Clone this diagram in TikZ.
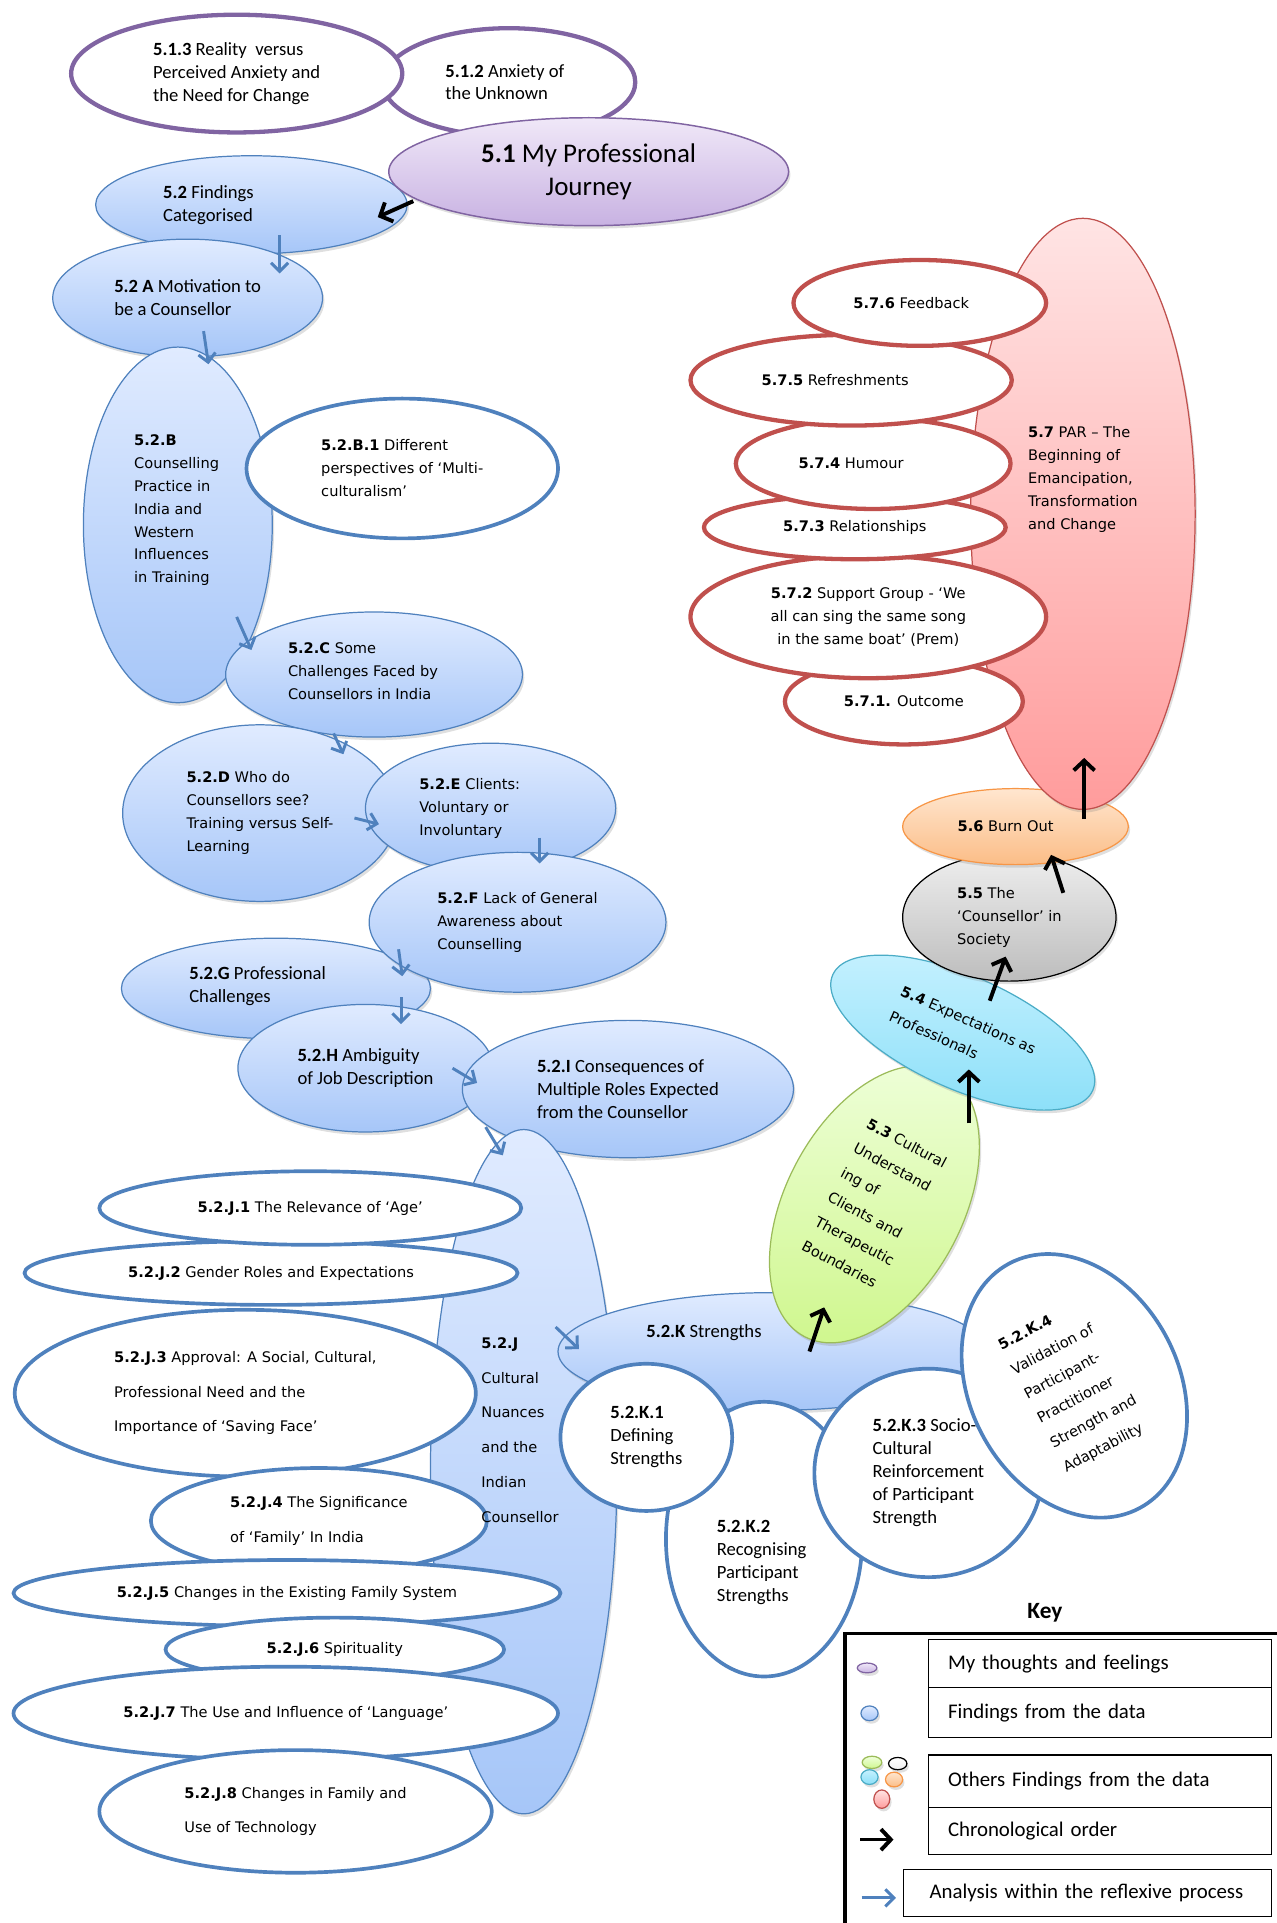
\documentclass[tikz,border=0pt]{standalone}
\usepackage{fontspec}
\usetikzlibrary{shapes.geometric,arrows.meta,shadows}
\newfontfamily\calfont{Carlito}
\newfontfamily\lucfont{DejaVu Sans}

\definecolor{bluebd}{HTML}{4F81BD}
\definecolor{bluetop}{HTML}{E0EBFF}
\definecolor{bluebot}{HTML}{A6C6F8}
\definecolor{purbd}{HTML}{8064A2}
\definecolor{purtop}{HTML}{F0E8F8}
\definecolor{purbot}{HTML}{C8B2E2}
\definecolor{redbd}{HTML}{C0504D}
\definecolor{pinktop}{HTML}{FFE4E4}
\definecolor{pinkbot}{HTML}{FF9C9C}
\definecolor{grnbd}{HTML}{9BBB59}
\definecolor{grntop}{HTML}{EFFFDB}
\definecolor{grnbot}{HTML}{D0F790}
\definecolor{cyanbd}{HTML}{4BACC6}
\definecolor{cyantop}{HTML}{C6F1FF}
\definecolor{cyanbot}{HTML}{8ADFF8}
\definecolor{graytop}{HTML}{EEEEEE}
\definecolor{graybot}{HTML}{BDBDBD}
\definecolor{orgbd}{HTML}{F79646}
\definecolor{orgtop}{HTML}{FFE6CF}
\definecolor{orgbot}{HTML}{FBBD87}

\tikzset{
  every node/.style={inner sep=0pt},
  esize/.style 2 args={minimum width=#1, minimum height=#2},
  caltext/.style={font=\calfont\fontsize{15.2}{18.7}\selectfont},
  luctext/.style={font=\lucfont\fontsize{11.9}{18.7}\selectfont},
  lucloose/.style={font=\lucfont\fontsize{11.9}{28.3}\selectfont},
  lucturn/.style={font=\lucfont\fontsize{11.9}{22.5}\selectfont},
  softshadow/.style={drop shadow={opacity=.25, shadow xshift=1.5pt, shadow yshift=-2.5pt}},
  finding/.style={ellipse, draw=bluebd, line width=1pt, top color=bluetop, bottom color=bluebot, softshadow, align=left},
  detail/.style={ellipse, draw=bluebd, line width=3pt, fill=white, align=left},
  thought/.style={ellipse, draw=purbd, line width=3.5pt, fill=white, align=left},
  reflection/.style={ellipse, draw=purbd, line width=1.2pt, top color=purtop, bottom color=purbot, softshadow, align=center},
  parpart/.style={ellipse, draw=redbd, line width=3.5pt, fill=white, align=center},
  other/.style n args={3}{ellipse, draw=#1, line width=1pt, top color=#2, bottom color=#3, softshadow, align=left},
  flow/.style={draw=bluebd, line width=2.4pt, -{Straight Barb[length=7pt,width=14pt,line width=2.4pt]}},
  chrono/.style={draw=black, line width=3.2pt, -{Straight Barb[length=8pt,width=17pt,line width=3.2pt]}},
  keybox/.style={draw, line width=0.9pt, align=left, font=\calfont\fontsize{17}{20}\selectfont},
  keyicon/.style n args={3}{ellipse, draw=#1, line width=1pt, top color=#2, bottom color=#3, softshadow}
}

\begin{document}
\begin{tikzpicture}[x=1pt,y=-1pt]
\useasboundingbox (0,0) rectangle (1041,1568);

% my thoughts and feelings
\node[thought, caltext, esize={206}{88}] (p512) at (415,67) {\textbf{5.1.2} Anxiety of\\the Unknown\hspace*{20pt}};
\node[thought, caltext, esize={270}{96}] (p513) at (193,60) {\textbf{5.1.3} Reality\ \ versus\\Perceived Anxiety and\hspace*{26pt}\\the Need for Change};

% findings chain
\node[finding, esize={254}{80}] (f52) at (205,167) {};
\node[reflection, esize={326}{88}, font=\calfont\fontsize{22}{27}\selectfont] (p51) at (480,140) {\textbf{5.1} My Professional\\Journey};
\node[finding, caltext, esize={220}{96}] (f52a) at (153,243) {\textbf{5.2 A} Motivation to\\be a Counsellor};
\node[finding, esize={154}{290}] (f52b) at (145,428) {};
\node[detail, luctext, esize={254}{114}] (o52b1) at (328,382) {\textbf{5.2.B.1} Different\\perspectives of ‘Multi-\\culturalism’};
\node[finding, esize={242}{102}] (f52c) at (305,550) {};
\node[finding, luctext, esize={224}{144}] (f52d) at (212,663) {\textbf{5.2.D} Who do\\Counsellors see?\\Training versus Self-\\Learning};
\node[finding, esize={204}{106}] (f52e) at (400,659) {};
\node[finding, esize={252}{82}] (f52g) at (225,806) {};
\node[finding, luctext, esize={242}{114}] (f52f) at (422,752) {\textbf{5.2.F} Lack of General\\Awareness about\\Counselling};
\node[finding, caltext, esize={208}{104}] (f52h) at (298,871) {\textbf{5.2.H} Ambiguity\\of Job Description};
\node[finding, caltext, esize={270}{112}] (f52i) at (512,888) {\textbf{5.2.I} Consequences of\\Multiple Roles Expected\\from the Counsellor};
\node[finding, esize={152}{558}] (f52j) at (427,1200) {};

% cultural nuances
\node[detail, luctext, esize={402}{52}] (o52j2) at (221,1038) {\textbf{5.2.J.2} Gender Roles and Expectations};
\node[detail, luctext, esize={344}{60}] (o52j1) at (253,985) {\textbf{5.2.J.1} The Relevance of ‘Age’};
\node[detail, lucloose, esize={376}{136}] (o52j3) at (200,1136) {\textbf{5.2.J.3} Approval: A Social, Cultural,\\Professional Need and the\\Importance of ‘Saving Face’};
\node[detail, lucloose, esize={274}{86}] (o52j4) at (260,1240) {\textbf{5.2.J.4} The Significance\\of ‘Family’ In India};
\node[detail, luctext, esize={446}{54}] (o52j5) at (234,1299) {\textbf{5.2.J.5} Changes in the Existing Family System};
\node[detail, luctext, esize={276}{52}] (o52j6) at (273,1345) {\textbf{5.2.J.6} Spirituality};
\node[detail, luctext, esize={444}{76}] (o52j7) at (233,1397) {\textbf{5.2.J.7} The Use and Influence of ‘Language’};
\node[detail, lucloose, esize={320}{100}] (o52j8) at (241,1477) {\textbf{5.2.J.8} Changes in Family and\\Use of Technology};

% strengths
\node[finding, esize={350}{96}] (f52k) at (630,1102) {};
\node[detail, esize={160}{224}] (o52k2) at (623,1255) {};
\node[detail, caltext, esize={140}{120}] (o52k1) at (527,1172) {\textbf{5.2.K.1}\\Defining\\Strengths};
\node[detail, caltext, esize={186}{170}] (o52k3) at (757,1201) {\textbf{5.2.K.3} Socio-\\Cultural\\Reinforcement\\of Participant\\Strength};

% other findings
\node[other={grnbd}{grntop}{grnbot}, lucturn, esize={144}{244}, rotate=-28] (g53) at (713,982) {\textbf{5.3} Cultural\\Understand\\ing of\\Clients and\\Therapeutic\\Boundaries};
\node[detail, lucturn, esize={170}{226}, rotate=28] (o52k4) at (876,1130) {\textbf{5.2.K.4}\\Validation of\\Participant-\\Practitioner\\Strength and\\Adaptability};
\node[other={cyanbd}{cyantop}{cyanbot}, lucturn, esize={232}{92}, rotate=-24] (c54) at (785,842) {\textbf{5.4} Expectations as\\Professionals};
\node[other={black}{graytop}{graybot}, luctext, esize={174}{104}] (gr55) at (823,748) {\textbf{5.5} The\\‘Counsellor’ in\\Society};
\node[other={orgbd}{orgtop}{orgbot}, luctext, esize={184}{62}] (or56) at (828,674) {\textbf{5.6} Burn Out\hspace*{16pt}};
\node[other={redbd}{pinktop}{pinkbot}, esize={183}{482}] (pk57) at (883,419) {};
\node[parpart, luctext, esize={194}{70}] (r571) at (737,572) {\textbf{5.7.1.} Outcome};
\node[parpart, luctext, esize={290}{100}] (r572) at (708,503) {\textbf{5.7.2} Support Group - ‘We\\all can sing the same song\\in the same boat’ (Prem)};
\node[parpart, luctext, esize={246}{52}] (r573) at (697,430) {\textbf{5.7.3} Relationships};
\node[parpart, luctext, esize={224}{74}] (r574) at (712,378) {\textbf{5.7.4} Humour\hspace*{36pt}};
\node[parpart, luctext, esize={262}{74}] (r575) at (694,310) {\textbf{5.7.5} Refreshments\hspace*{26pt}};
\node[parpart, luctext, esize={206}{70}] (r576) at (750,247) {\textbf{5.7.6} Feedback\hspace*{14pt}};

% texts set off centre
\node[caltext, align=left] (t52) at ([shift={(-35,0)}]f52.center) {\textbf{5.2} Findings\\Categorised};
\node[luctext, align=left] (t52b) at ([shift={(-1,-12)}]f52b.center) {\textbf{5.2.B}\\Counselling\\Practice in\\India and\\Western\\Influences\\in Training};
\node[luctext, align=left] (t52c) at ([shift={(-9,-3)}]f52c.center) {\textbf{5.2.C} Some\\Challenges Faced by\\Counsellors in India};
\node[luctext, align=left] (t52e) at ([shift={(-17,0)}]f52e.center) {\textbf{5.2.E} Clients:\\Voluntary or\\Involuntary};
\node[caltext, align=left] (t52g) at ([shift={(-15,-2)}]f52g.center) {\textbf{5.2.G} Professional\\Challenges};
\node[lucloose, align=left] (t52j) at ([shift={(-3,-34)}]f52j.center) {\textbf{5.2.J}\\Cultural\\Nuances\\and the\\Indian\\Counsellor};
\node[caltext, align=left] (t52k) at ([shift={(-56,-15)}]f52k.center) {\textbf{5.2.K} Strengths};
\node[caltext, align=left] (t52k2) at ([shift={(-2,19)}]o52k2.center) {\textbf{5.2.K.2}\\Recognising\\Participant\\Strengths};
\node[luctext, align=left] (t57) at ([shift={(0,-28)}]pk57.center) {\textbf{5.7} PAR – The\\Beginning of\\Emancipation,\\Transformation\\and Change};

% analysis within the reflexive process
\draw[flow] ([shift={(23,25)}]f52.center) -- ([shift={(75,-20)}]f52a.center);
\draw[flow] ([shift={(13,27)}]f52a.center) -- ([shift={(25,-131)}]f52b.center);
\draw[flow] ([shift={(48,75)}]f52b.center) -- ([shift={(-100,-20)}]f52c.center);
\draw[flow] ([shift={(-33,48)}]f52c.center) -- ([shift={(68,-48)}]f52d.center);
\draw[flow] ([shift={(77,4)}]f52d.center) -- ([shift={(-91,13)}]f52e.center);
\draw[flow] ([shift={(40,24)}]f52e.center) -- ([shift={(18,-48)}]f52f.center);
\draw[flow] ([shift={(-97,22)}]f52f.center) -- ([shift={(103,-10)}]f52g.center);
\draw[flow] ([shift={(102,7)}]f52g.center) -- ([shift={(29,-36)}]f52h.center);
\draw[flow] ([shift={(71,0)}]f52h.center) -- ([shift={(-123,-5)}]f52i.center);
\draw[flow] ([shift={(-116,31)}]f52i.center) -- ([shift={(-17,-258)}]f52j.center);
\draw[flow] ([shift={(26,-118)}]f52j.center) -- ([shift={(-158,-2)}]f52k.center);

% chronological order
\draw[chrono] ([shift={(-143,24)}]p51.center) -- ([shift={(103,10)}]f52.center);
\draw[chrono] ([shift={(30,0)}]f52k.center) -- ([shift={(-41,84)}]g53.center);
\draw[chrono] ([shift={(77,-66)}]g53.center) -- ([shift={(5,30)}]c54.center);
\draw[chrono] ([shift={(22,-26)}]c54.center) -- ([shift={(-3,32)}]gr55.center);
\draw[chrono] ([shift={(44,-20)}]gr55.center) -- ([shift={(29,23)}]or56.center);
\draw[chrono] ([shift={(56,-6)}]or56.center) -- ([shift={(1,199)}]pk57.center);

% key
\node[font=\calfont\bfseries\fontsize{19}{22}\selectfont] (keyhead) at (852,1315) {Key};
\draw[line width=3pt] (689,1580) |- (1050,1332);
\node[keybox, esize={280}{39}, text width=248] (kb1) at (897,1356.5) {My thoughts and feelings};
\node[keybox, esize={280}{41}, text width=248] (kb2) at (897,1396.5) {Findings from the data};
\node[keybox, esize={280}{43}, text width=248] (kb3) at (897,1452.5) {Others Findings from the data};
\node[keybox, esize={280}{38}, text width=248] (kb4) at (897,1493) {Chronological order};
\node[keybox, esize={300}{39}, text width=258] (kb5) at (887,1543.5) {Analysis within the reflexive process};
\node[keyicon={purbd}{purtop}{purbot}, esize={16}{8}] (k1) at (707,1360) {};
\node[keyicon={bluebd}{bluetop}{bluebot}, esize={14}{12}] (k2) at (709,1397) {};
\node[keyicon={grnbd}{grntop}{grnbot}, esize={16}{10}] (k3) at (711,1437) {};
\node[keyicon={black}{white}{graytop}, esize={15}{10}] (k4) at (732,1438) {};
\node[keyicon={cyanbd}{cyantop}{cyanbot}, esize={14}{12}] (k5) at (709,1449) {};
\node[keyicon={orgbd}{orgtop}{orgbot}, esize={14}{12}] (k6) at (729,1451) {};
\node[keyicon={redbd}{pinktop}{pinkbot}, esize={13}{15}] (k7) at (719,1467) {};
\draw[chrono, line width=2.6pt] ([shift={(-55,7)}]kb4.west) -- ([shift={(-28,7)}]kb4.west);
\draw[flow] ([shift={(-34,4)}]kb5.west) -- ([shift={(-6,4)}]kb5.west);
\end{tikzpicture}
\end{document}
